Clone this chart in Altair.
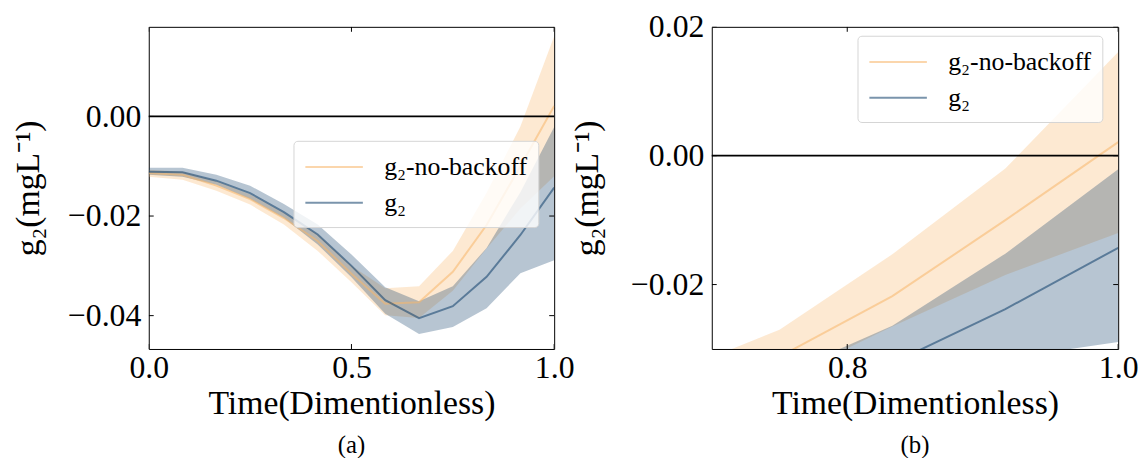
import altair as alt
import pandas as pd

# Time samples (dimensionless)
T = [0.0, 0.0833, 0.1667, 0.25, 0.3333, 0.4167, 0.5, 0.5833, 0.6667, 0.75, 0.8333, 0.9167, 1.0]

# g2-no-backoff (mean, lower, upper)
NB_MEAN = [-0.0114, -0.0117, -0.0139, -0.0166, -0.0204, -0.0250, -0.0316, -0.0376, -0.0373, -0.0312, -0.0218, -0.0100, 0.0021]
NB_LO = [-0.0121, -0.0127, -0.0149, -0.0177, -0.0217, -0.0270, -0.0333, -0.0399, -0.0405, -0.0350, -0.0265, -0.0185, -0.0120]
NB_HI = [-0.0107, -0.0111, -0.0130, -0.0156, -0.0194, -0.0237, -0.0300, -0.0345, -0.0341, -0.0270, -0.0153, -0.0020, 0.0161]

# g2 (mean, lower, upper)
G2_MEAN = [-0.0111, -0.0112, -0.0129, -0.0154, -0.0192, -0.0237, -0.0300, -0.0369, -0.0405, -0.0381, -0.0322, -0.0238, -0.0143]
G2_LO = [-0.0117, -0.0121, -0.0137, -0.0166, -0.0204, -0.0257, -0.0323, -0.0396, -0.0437, -0.0423, -0.0385, -0.0315, -0.0289]
G2_HI = [-0.0103, -0.0103, -0.0117, -0.0139, -0.0176, -0.0217, -0.0277, -0.0343, -0.0371, -0.0341, -0.0264, -0.0152, -0.0021]

SERIES = ["g₂-no-backoff", "g₂"]
BASE_COLORS = ["#F8B669", "#0F3E69"]
ZERO = [0.0]

X_TICKS_A = [0.0, 0.5, 1.0]
Y_TICKS_A = [-0.04, -0.02, 0.0]
X_TICKS_B = [0.8, 1.0]
Y_TICKS_B = [-0.02, 0.0, 0.02]

FONT = "Liberation Serif"

rows = []
for name, mean, lo, hi in [(SERIES[0], NB_MEAN, NB_LO, NB_HI), (SERIES[1], G2_MEAN, G2_LO, G2_HI)]:
    for t, m, l, h in zip(T, mean, lo, hi):
        rows.append({"series": name, "t": t, "mean": m, "lo": l, "hi": h})
df = pd.DataFrame(rows)


def panel(xdom, ydom, xticks, yticks, w, h, lx, ly, caption, ytitle_pad):
    xs = alt.Scale(domain=xdom, nice=False, zero=False)
    ys = alt.Scale(domain=ydom, nice=False, zero=False)
    xaxis = alt.Axis(values=xticks, format=".1f", title="Time(Dimentionless)",
                     labelFlush=False, labelOverlap=False, ticks=False, domain=False,
                     grid=False, labelPadding=4, titlePadding=3)
    yaxis = alt.Axis(values=yticks, format=".2f", title="g₂(mgL⁻¹)",
                     labelOverlap=False, ticks=False, domain=False, grid=False,
                     labelPadding=8, titlePadding=ytitle_pad)
    legend = alt.Legend(title=None, orient="none", legendX=lx, legendY=ly,
                        symbolType="M-2,0L2,0", symbolSize=841, symbolOffset=14.5,
                        symbolStrokeWidth=2, symbolOpacity=0.55,
                        labelFontSize=26, labelFont=FONT,
                        labelColor="black", labelOffset=35, rowPadding=7, padding=11,
                        fillColor="rgba(255,255,255,0.8)", strokeColor="#d4d4d4",
                        cornerRadius=4, labelLimit=400)

    def X(field):
        return alt.X(field, type="quantitative", scale=xs, axis=xaxis)

    def Y(field):
        return alt.Y(field, type="quantitative", scale=ys, axis=yaxis)

    base = alt.Chart(df)
    layers = []
    for i, s in enumerate(SERIES):
        layers.append(
            base.transform_filter(alt.datum.series == s)
            .mark_area(clip=True, opacity=0.3, color=BASE_COLORS[i])
            .encode(x=X("t"), y=Y("lo"), y2="hi:Q")
        )
    for i, s in enumerate(SERIES):
        layers.append(
            base.transform_filter(alt.datum.series == s)
            .mark_line(clip=True, strokeWidth=2, opacity=0.55)
            .encode(
                x=X("t"), y=Y("mean"),
                color=alt.Color("series:N", scale=alt.Scale(domain=SERIES, range=BASE_COLORS),
                                legend=legend),
            )
        )
    layers.append(
        alt.Chart(pd.DataFrame({"z": ZERO})).mark_rule(color="black", strokeWidth=1.8)
        .encode(y=Y("z"))
    )
    ydf = pd.DataFrame({"v": yticks})
    xdf = pd.DataFrame({"v": xticks})
    tl = 5
    layers.append(alt.Chart(ydf).mark_rule(color="black", strokeWidth=1, clip=True).encode(
        y=Y("v"), x=alt.value(0), x2=alt.value(tl)))
    layers.append(alt.Chart(ydf).mark_rule(color="black", strokeWidth=1, clip=True).encode(
        y=Y("v"), x=alt.value(w - tl), x2=alt.value(w)))
    layers.append(alt.Chart(xdf).mark_rule(color="black", strokeWidth=1, clip=True).encode(
        x=X("v"), y=alt.value(h - tl), y2=alt.value(h)))
    layers.append(alt.Chart(xdf).mark_rule(color="black", strokeWidth=1, clip=True).encode(
        x=X("v"), y=alt.value(0), y2=alt.value(tl)))
    return alt.layer(*layers).properties(
        width=w, height=h,
        title=alt.TitleParams(caption, orient="bottom", fontSize=25, font=FONT,
                              fontWeight="normal", color="black", offset=13,
                              anchor="middle", frame="group"),
    )


a = panel([0.0, 1.0], [-0.0467, 0.0180], X_TICKS_A, Y_TICKS_A, 409, 325, 146, 115, "(a)", 22)
b = panel([0.7, 1.0], [-0.03, 0.02], X_TICKS_B, Y_TICKS_B, 410, 325, 147, 9, "(b)", 26)

chart = (
    alt.hconcat(a, b, spacing=159, bounds="flush")
    .resolve_scale(x="independent", y="independent", color="independent")
    .resolve_legend(color="independent")
    .properties(padding={"left": 3, "top": 0, "right": 0, "bottom": 0})
    .configure(font=FONT)
    .configure_view(stroke="black", strokeWidth=1)
    .configure_axis(labelFont=FONT, titleFont=FONT, labelFontSize=32, titleFontSize=34,
                    labelColor="black", titleColor="black", titleFontWeight="normal")
    .configure_legend(labelFont=FONT)
)

chart.save("out.html", embed_options={"renderer": "svg", "actions": False})
